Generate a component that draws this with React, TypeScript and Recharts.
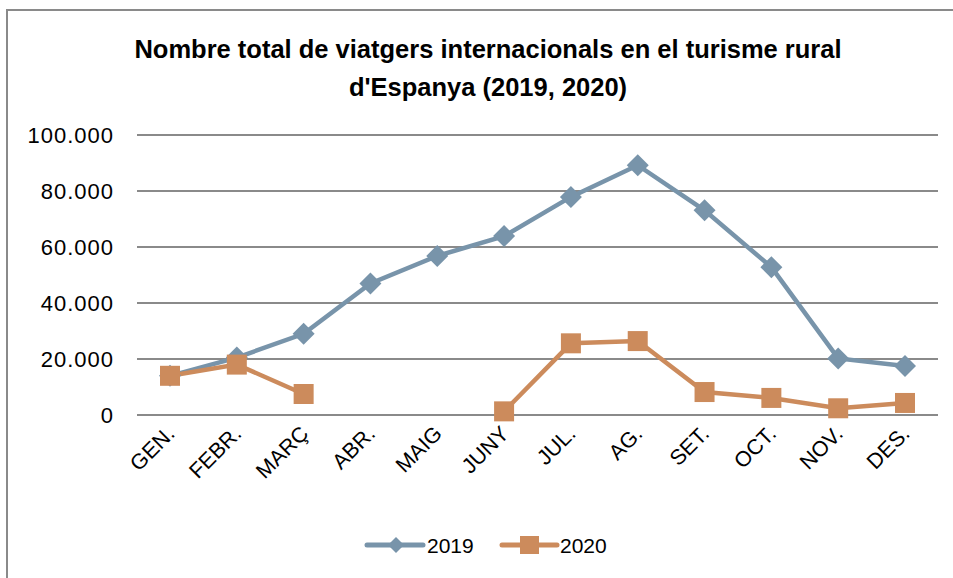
import React from 'react';
import { LineChart, Line, XAxis, YAxis, CartesianGrid, Legend } from 'recharts';

const months = ['GEN.', 'FEBR.', 'MARÇ', 'ABR.', 'MAIG', 'JUNY', 'JUL.', 'AG.', 'SET.', 'OCT.', 'NOV.', 'DES.'];
const values2019 = [14000, 20500, 29000, 47000, 56800, 63900, 77900, 89200, 73100, 52800, 20200, 17500];
const values2020: (number | null)[] = [14000, 18000, 7500, null, null, 1300, 25600, 26400, 8200, 6100, 2400, 4300];
const yTicks = [0, 20000, 40000, 60000, 80000, 100000];
const titleLines = ["Nombre total de viatgers internacionals en el turisme rural", "d'Espanya (2019, 2020)"];
const seriesNames = ['2019', '2020'];

const data = months.map((m, i) => ({ month: m, y2019: values2019[i], y2020: values2020[i] }));

const BLUE = '#7894AA';
const ORANGE = '#CC8B5C';
const GRID = '#8A8A8A';
const FONT = '"Liberation Sans", Arial, sans-serif';

const fmt = (v: number) => String(v).replace(/\B(?=(\d{3})+(?!\d))/g, '.');

const Diamond = (props: any) => {
  const { cx, cy, index, value } = props;
  if (cx == null || cy == null || value == null) return <g key={`d${index}`} />;
  const r = 11;
  return <path key={`d${index}`} d={`M${cx},${cy - r}L${cx + r},${cy}L${cx},${cy + r}L${cx - r},${cy}Z`} fill={BLUE} />;
};

const Square = (props: any) => {
  const { cx, cy, index, value } = props;
  if (cx == null || cy == null || value == null) return <g key={`s${index}`} />;
  const s = 10;
  return <rect key={`s${index}`} x={cx - s} y={cy - s} width={2 * s} height={2 * s} fill={ORANGE} />;
};

const XTick = (props: any) => {
  const { x, y, payload } = props;
  return (
    <g transform={`translate(${x + 6},${y + 12})`}>
      <text x={0} y={0} transform="rotate(-45)" textAnchor="end" fontSize={21.5} fontFamily={FONT} fill="#000">
        {payload.value}
      </text>
    </g>
  );
};

const LegendContent = () => (
  <div style={{ width: 953, height: 63, position: 'relative', fontFamily: FONT }}>
    <svg width={953} height={63} style={{ position: 'absolute', left: 0, top: 0 }}>
      <line x1={367} x2={423} y1={30} y2={30} stroke={BLUE} strokeWidth={5} strokeLinecap="round" />
      <path d="M396,22L404,30L396,38L388,30Z" fill={BLUE} />
      <text x={427} y={30} dominantBaseline="central" fontSize={21} fill="#000">{seriesNames[0]}</text>
      <line x1={502} x2={557} y1={30} y2={30} stroke={ORANGE} strokeWidth={5} strokeLinecap="round" />
      <rect x={520} y={21} width={19} height={18} fill={ORANGE} />
      <text x={560} y={30} dominantBaseline="central" fontSize={21} fill="#000">{seriesNames[1]}</text>
    </svg>
  </div>
);

export default function App() {
  return (
    <div style={{ position: 'absolute', left: 0, top: 0, width: 953, height: 578, overflow: 'hidden', background: '#fff' }}>
      <div style={{ position: 'absolute', left: 6, top: 9, width: 960, height: 600, borderLeft: '2px solid #8A8A8A', borderTop: '2px solid #8A8A8A' }} />
      <div style={{ position: 'absolute', left: 0, top: 30, width: 976, textAlign: 'center', fontFamily: FONT, fontWeight: 'bold', fontSize: 25.5, lineHeight: '38px', color: '#000' }}>
        {titleLines.map((t) => <div key={t}>{t}</div>)}
      </div>
      <div style={{ position: 'absolute', left: 0, top: 0 }}>
        <LineChart width={953} height={578} data={data} margin={{ top: 135, right: 15, bottom: 0, left: 0 }}>
          <CartesianGrid vertical={false} stroke={GRID} strokeWidth={2} />
          <XAxis dataKey="month" interval={0} axisLine={false} tickLine={false} height={100} padding={{ left: 33, right: 33 }} tick={<XTick />} />
          <YAxis
            width={137}
            domain={[0, 100000]}
            ticks={yTicks}
            tickFormatter={fmt}
            axisLine={false}
            tickLine={false}
            tickSize={0}
            tickMargin={23}
            tick={{ fontSize: 22, fill: '#000', fontFamily: FONT, letterSpacing: 1 }}
          />
          <Legend verticalAlign="bottom" content={<LegendContent />} wrapperStyle={{ left: 0, top: 515, width: 953, height: 63 }} />
          <Line type="linear" dataKey="y2019" name={seriesNames[0]} stroke={BLUE} strokeWidth={4.5} dot={Diamond} activeDot={false} isAnimationActive={false} />
          <Line type="linear" dataKey="y2020" name={seriesNames[1]} stroke={ORANGE} strokeWidth={4.5} dot={Square} activeDot={false} isAnimationActive={false} />
        </LineChart>
      </div>
    </div>
  );
}
